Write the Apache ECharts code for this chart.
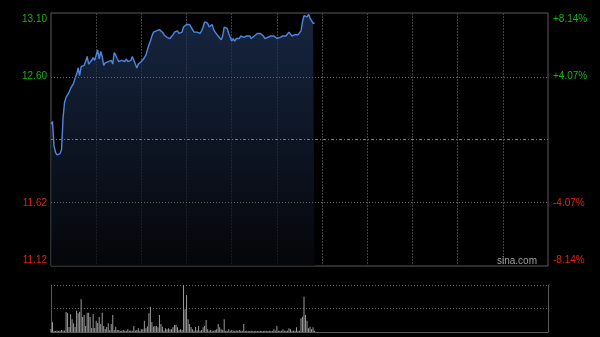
<!DOCTYPE html>
<html><head><meta charset="utf-8">
<script src="https://cdn.jsdelivr.net/npm/echarts@6/dist/echarts.min.js"></script>
<style>html,body{margin:0;padding:0;background:#000;}#c{width:600px;height:337px;}</style>
</head><body><div id="c"></div>
<script>
// ---- data ----
const prevClose = 12.11;
const priceMin = 11.12;
const priceMax = 13.10;
const volMax = 47;
const leftLabels = ['11.12', '11.62', '', '12.60', '13.10'];
const rightLabels = ['-8.14%', '-4.07%', '', '+4.07%', '+8.14%'];
const gridPrices = [11.62, 12.60];
const watermark = 'sina.com';

const prices = [
  12.23,12.25,12.06,12.01,11.99,11.99,12.00,12.03,12.28,12.40,
  12.44,12.46,12.48,12.51,12.53,12.55,12.59,12.62,12.67,12.61,
  12.68,12.67,12.69,12.72,12.76,12.70,12.70,12.73,12.75,12.73,
  12.77,12.81,12.74,12.80,12.76,12.69,12.71,12.70,12.72,12.71,
  12.73,12.70,12.79,12.77,12.74,12.72,12.73,12.73,12.72,12.72,
  12.74,12.72,12.73,12.73,12.76,12.76,12.70,12.67,12.70,12.71,
  12.72,12.73,12.75,12.77,12.81,12.85,12.88,12.92,12.95,12.96,
  12.96,12.95,12.97,12.96,12.95,12.93,12.92,12.91,12.91,12.90,
  12.91,12.93,12.95,12.94,12.96,12.94,12.95,12.95,12.99,12.99,
  13.01,13.02,13.01,12.99,12.98,12.95,12.95,12.95,12.94,12.94,
  12.96,12.99,13.03,13.04,13.02,12.99,12.98,13.01,12.97,12.95,
  12.94,12.92,12.91,12.89,12.92,12.99,12.99,12.98,12.94,12.91,
  12.88,12.90,12.88,12.90,12.91,12.90,12.92,12.93,12.91,12.90,
  12.92,12.92,12.92,12.90,12.91,12.92,12.93,12.94,12.94,12.94,
  12.94,12.92,12.90,12.90,12.91,12.91,12.92,12.92,12.92,12.92,
  12.90,12.89,12.91,12.92,12.92,12.92,12.92,12.93,12.95,12.95,
  12.92,12.93,12.93,12.94,12.93,12.92,12.96,13.03,13.08,13.08,
  13.07,13.09,13.06,13.04,13.02,13.02
];

const volumes = [
  3,9.7,1.3,1,1.5,1,1.3,2,1.5,1.3,
  20,18.7,5,17.7,12.7,8.7,5,21.3,18.7,20.3,
  32.7,15,17,6,19.3,19.3,15,4,18,4,
  11.3,9,15,8,19.3,6,3,5,8.7,2,
  8,17,2,5.3,2,2,1.3,1.3,2,1.3,
  1.3,2.7,1.3,1.5,1.3,6,1.5,2,3.7,1.3,
  2.7,2.7,11.3,3.7,5.7,18.7,25.3,10,5.3,6,
  6,4.7,17,8,5.3,1.3,3.7,2.7,3.7,2.7,
  2.7,4.7,7,7,4.7,2,2.7,2,47,22.7,
  37,12.7,8,5,2.7,1.3,5,1.8,6,1.3,
  2,4.7,6,12,2.7,1.3,2,1.3,1.3,2,
  2.7,8,4.7,2.7,2,12.7,1.3,1.3,2.7,1.3,
  2,1.3,1.3,1.5,1.3,2,1.3,1.3,8,1,
  1.3,1,1,1.3,1,1,1.3,1,1,1.3,
  1,1,1.3,1,1,1.3,1,1,2.7,1.3,
  6,1.3,1.3,1.3,2.7,1.3,1.3,1.3,3.7,2.7,
  1.3,1.3,1.3,4.7,1.3,1.3,13.7,15.3,35.3,17,
  11.3,3.7,5.3,2.7,4.7,1.3
];

// HK trading minutes: 09:30-12:00, 13:01-16:00
const times = [];
function pad(n){return (n<10?'0':'')+n;}
for (let m = 0; m <= 150; m++) { const t = 9*60+30+m; times.push(pad(Math.floor(t/60))+':'+pad(t%60)); }
for (let m = 1; m <= 180; m++) { const t = 13*60+m; times.push(pad(Math.floor(t/60))+':'+pad(t%60)); }

const FONT = 'Arial, "Liberation Sans", sans-serif';
const GREEN = '#13b313';
const RED = '#dd2211';
function labelColor(v, i){ return i > 2 ? GREEN : (i < 2 ? RED : '#888'); }

const chart = echarts.init(document.getElementById('c'), null, {renderer: 'canvas'});
chart.setOption({
  backgroundColor: '#000',
  animation: false,
  grid: [
    {left: 51, right: 52, top: 13, height: 253, show: true, borderColor: '#5a5a5a', borderWidth: 1, backgroundColor: 'transparent'},
    {left: 51, right: 52, top: 285, height: 47, show: false}
  ],
  xAxis: [
    {type: 'category', gridIndex: 0, data: times, boundaryGap: false,
     axisLine: {show: false}, axisTick: {show: false}, axisLabel: {show: false},
     splitLine: {show: true, interval: function(i){ return i % 30 === 0 && i > 0 && i < 330; },
       lineStyle: {color: '#404040', type: [2, 1], width: 1}}},
    {type: 'category', gridIndex: 1, data: times, boundaryGap: false,
     axisLine: {show: true, lineStyle: {color: '#5a5a5a'}}, axisTick: {show: false}, axisLabel: {show: false},
     splitLine: {show: false}}
  ],
  yAxis: [
    {type: 'value', gridIndex: 0, min: priceMin, max: priceMax, show: false, splitLine: {show: false}},
    {type: 'value', gridIndex: 0, min: 0, max: 4, interval: 1, position: 'left',
     axisLine: {show: false}, axisTick: {show: false}, splitLine: {show: false},
     axisLabel: {show: true, showMinLabel: true, showMaxLabel: true, margin: 4,
       fontFamily: FONT, fontSize: 10, lineHeight: 12, color: labelColor,
       formatter: function(v, i){ const s = leftLabels[i]; return i === 4 ? '\n' + s : (i === 0 ? s + '\n' : s); }}},
    {type: 'value', gridIndex: 0, min: 0, max: 4, interval: 1, position: 'right',
     axisLine: {show: false}, axisTick: {show: false}, splitLine: {show: false},
     axisLabel: {show: true, showMinLabel: true, showMaxLabel: true, margin: 5,
       fontFamily: FONT, fontSize: 10, lineHeight: 12, color: labelColor,
       formatter: function(v, i){ const s = rightLabels[i]; return i === 4 ? '\n' + s : (i === 0 ? s + '\n' : s); }}},
    {type: 'value', gridIndex: 1, min: 0, max: volMax, interval: volMax / 2, position: 'left',
     axisLine: {show: true, lineStyle: {color: '#5a5a5a'}}, axisTick: {show: false}, axisLabel: {show: false},
     splitLine: {show: true, lineStyle: {color: '#666', type: [1, 2]}}},
    {type: 'value', gridIndex: 1, min: 0, max: volMax, position: 'right',
     axisLine: {show: true, lineStyle: {color: '#5a5a5a'}}, axisTick: {show: false}, axisLabel: {show: false},
     splitLine: {show: false}}
  ],
  series: [
    {type: 'line', xAxisIndex: 0, yAxisIndex: 0, data: prices, symbol: 'none', smooth: false,
     lineStyle: {color: '#4f86de', width: 1.4},
     areaStyle: {origin: 'start', color: new echarts.graphic.LinearGradient(0, 0, 0, 1, [
       {offset: 0, color: '#20355c'}, {offset: 1, color: '#07080c'}])},
     markLine: {silent: true, symbol: 'none', label: {show: false}, animation: false,
       data: gridPrices.map(function(p){ return {yAxis: p, lineStyle: {color: '#666', type: [1, 2], width: 1}}; })
         .concat([{yAxis: prevClose, lineStyle: {color: '#777', type: [3, 2, 1, 2], width: 1}}])},
     z: 3},
    {type: 'bar', xAxisIndex: 1, yAxisIndex: 3, data: volumes, barWidth: 1,
     itemStyle: {color: '#9a9a9a'}, z: 3}
  ],
  graphic: [
    {type: 'text', left: 497, top: 256, z: 10, silent: true,
     style: {text: watermark, fill: '#a0a0a0', font: '10px ' + FONT}}
  ]
});
</script>
</body></html>
